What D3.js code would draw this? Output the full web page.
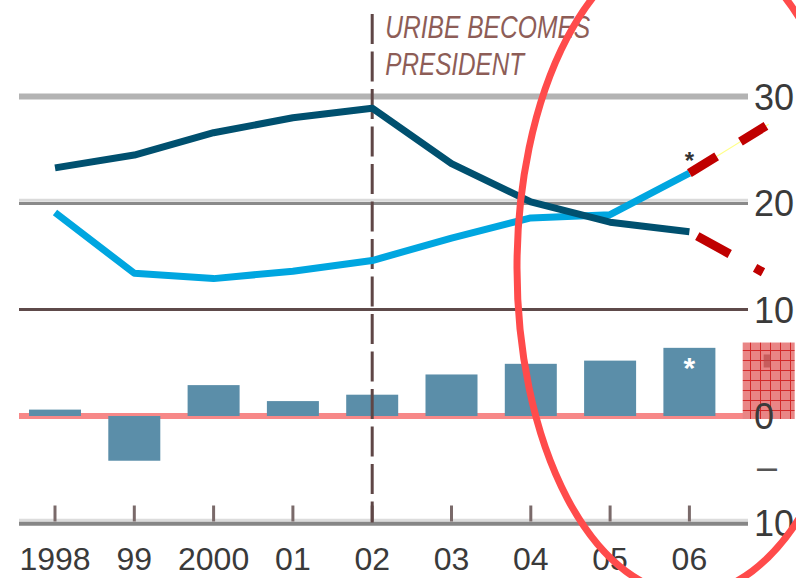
<!DOCTYPE html>
<html>
<head>
<meta charset="utf-8">
<script src="https://cdn.jsdelivr.net/npm/d3@7"></script>
<style>
body { margin: 0; background: #fff; }
svg { display: block; }
text { font-family: "Liberation Sans", Arial, sans-serif; }
</style>
</head>
<body>
<script>
var width = 796,
	height = 578;

// data
var years = ["1998", "99", "2000", "01", "02", "03", "04", "05", "06"];
var slots = years.concat(["07"]);
var darkLine = [23.3, 24.5, 26.6, 28.0, 28.9, 23.7, 20.1, 18.2, 17.3];
var lightLine = [19.1, 13.4, 12.9, 13.6, 14.6, 16.7, 18.6, 18.9, 22.8];
var bars = [0.6, -4.2, 2.9, 1.4, 2.0, 3.9, 4.9, 5.2, 6.4];
var forecastBar = 6.9;
var lightForecast = [22.8, 27.4];
var darkForecast = [17.3, 13.2];
var yTicks = [30, 20, 10, 0, -10];

var svg = d3.select("body").append("svg")
	.attr("width", width)
	.attr("height", height);

var defs = svg.append("defs");
var pat = defs.append("pattern")
	.attr("id", "hatch")
	.attr("patternUnits", "userSpaceOnUse")
	.attr("width", 10)
	.attr("height", 10);
pat.append("rect").attr("width", 10).attr("height", 10).attr("fill", "#e98585");
pat.append("path").attr("d", "M0,0.5H10M0.5,0V10")
	.attr("stroke", "#d22a2a").attr("stroke-width", 1);

var x = d3.scalePoint()
	.domain(slots)
	.range([55, 768.7]);

var y = d3.scaleLinear()
	.domain([-10, 30])
	.range([522.5, 96.5]);

var gx0 = 19, gx1 = 748;

// horizontal rules
function rule(yy, color, w) {
	svg.append("line")
		.attr("x1", gx0).attr("x2", gx1)
		.attr("y1", yy).attr("y2", yy)
		.attr("stroke", color)
		.attr("stroke-width", w);
}
rule(y(30), "#b3b3b3", 6);
rule(y(20) - 2.7, "#dadada", 3);
rule(y(20) + 0.4, "#8a8a8a", 3);
rule(y(10), "#5e4a4a", 3);
rule(y(0), "#f78888", 6);
rule(y(-10) - 2.2, "#dcdcdc", 3);
rule(y(-10) + 1.2, "#868686", 4);

// x ticks
svg.selectAll(".xtick")
	.data(years)
	.enter().append("line")
	.attr("class", "xtick")
	.attr("x1", function(d) { return x(d); })
	.attr("x2", function(d) { return x(d); })
	.attr("y1", y(-10) - 17)
	.attr("y2", y(-10) - 1)
	.attr("stroke", "#7a6a6a")
	.attr("stroke-width", 3);

// bars
var bw = 52;
svg.selectAll(".bar")
	.data(bars)
	.enter().append("rect")
	.attr("class", "bar")
	.attr("x", function(d, i) { return x(years[i]) - bw / 2; })
	.attr("y", function(d) { return y(Math.max(0, d)); })
	.attr("width", bw)
	.attr("height", function(d) { return Math.abs(y(d) - y(0)); })
	.attr("fill", "#5b8ea9");

// forecast box
svg.append("rect")
	.attr("x", x("07") - bw / 2)
	.attr("y", y(forecastBar))
	.attr("width", bw)
	.attr("height", y(0) + 3 - y(forecastBar))
	.attr("fill", "url(#hatch)");
svg.append("rect")
	.attr("x", x("07") - 5)
	.attr("y", y(forecastBar) + 12)
	.attr("width", 7)
	.attr("height", 13)
	.attr("fill", "#b84a4a")
	.attr("opacity", 0.7);

// Uribe marker
svg.append("line")
	.attr("x1", x("02")).attr("x2", x("02"))
	.attr("y1", 14).attr("y2", y(-10))
	.attr("stroke", "#5f4646")
	.attr("stroke-width", 3)
	.attr("stroke-dasharray", "30,7.5");

svg.append("text")
	.attr("x", x("02") + 13)
	.attr("y", 38)
	.attr("textLength", 205)
	.attr("lengthAdjust", "spacingAndGlyphs")
	.style("font-family", "'Liberation Sans Narrow', sans-serif")
	.style("font-style", "italic")
	.style("font-size", "31px")
	.attr("fill", "#8d5d57")
	.text("URIBE BECOMES");
svg.append("text")
	.attr("x", x("02") + 13)
	.attr("y", 75)
	.attr("textLength", 139)
	.attr("lengthAdjust", "spacingAndGlyphs")
	.style("font-family", "'Liberation Sans Narrow', sans-serif")
	.style("font-style", "italic")
	.style("font-size", "31px")
	.attr("fill", "#8d5d57")
	.text("PRESIDENT");

// lines
var line = d3.line()
	.x(function(d, i) { return x(years[i]); })
	.y(function(d) { return y(d); });

svg.append("path")
	.datum(lightLine)
	.attr("d", line)
	.attr("fill", "none")
	.attr("stroke", "#00a6e0")
	.attr("stroke-width", 7)
	.attr("stroke-linejoin", "round");

svg.append("path")
	.datum(darkLine)
	.attr("d", line)
	.attr("fill", "none")
	.attr("stroke", "#00506f")
	.attr("stroke-width", 7)
	.attr("stroke-linejoin", "round");

// forecast dashes
var fline = d3.line()
	.x(function(d, i) { return x(slots[8 + i]); })
	.y(function(d) { return y(d); });

svg.append("path")
	.datum(lightForecast)
	.attr("d", fline)
	.attr("stroke", "#ffff88")
	.attr("stroke-width", 1.2);
svg.append("path")
	.datum(lightForecast)
	.attr("d", fline)
	.attr("fill", "none")
	.attr("stroke", "#c00000")
	.attr("stroke-width", 9)
	.attr("stroke-dasharray", "32,28,30,40");
svg.append("path")
	.datum(darkForecast)
	.attr("d", fline)
	.attr("fill", "none")
	.attr("stroke", "#c00000")
	.attr("stroke-width", 9)
	.attr("stroke-dasharray", "37,29,9,40")
	.attr("stroke-dashoffset", -9);

// asterisks
svg.append("text")
	.attr("x", x("06"))
	.attr("y", y(lightLine[8]) - 4)
	.attr("text-anchor", "middle")
	.style("font-size", "24px")
	.style("font-weight", "bold")
	.attr("fill", "#333")
	.text("*");
svg.append("text")
	.attr("x", x("06"))
	.attr("y", y(bars[8]) + 30)
	.attr("text-anchor", "middle")
	.style("font-size", "30px")
	.style("font-weight", "bold")
	.attr("fill", "#fff")
	.text("*");

// right scale labels
svg.selectAll(".ylab")
	.data(yTicks)
	.enter().append("text")
	.attr("class", "ylab")
	.attr("x", 754)
	.attr("y", function(d) { return y(d) + 13; })
	.style("font-size", "36px")
	.attr("fill", "#3a3a3a")
	.text(function(d) { return Math.abs(d); });
svg.append("text")
	.attr("x", 757)
	.attr("y", y(-5) + 10)
	.style("font-size", "36px")
	.attr("fill", "#555")
	.text("\u2013");

// year labels
svg.selectAll(".xlab")
	.data(years)
	.enter().append("text")
	.attr("class", "xlab")
	.attr("x", function(d) { return x(d); })
	.attr("y", 570)
	.attr("text-anchor", "middle")
	.style("font-size", "32px")
	.attr("fill", "#3a3a3a")
	.text(function(d) { return d; });

// red circle annotation
svg.append("ellipse")
	.attr("cx", 689)
	.attr("cy", 268)
	.attr("rx", 172)
	.attr("ry", 326)
	.attr("fill", "none")
	.attr("stroke", "#ff4b4b")
	.attr("stroke-width", 7);
</script>
</body>
</html>
